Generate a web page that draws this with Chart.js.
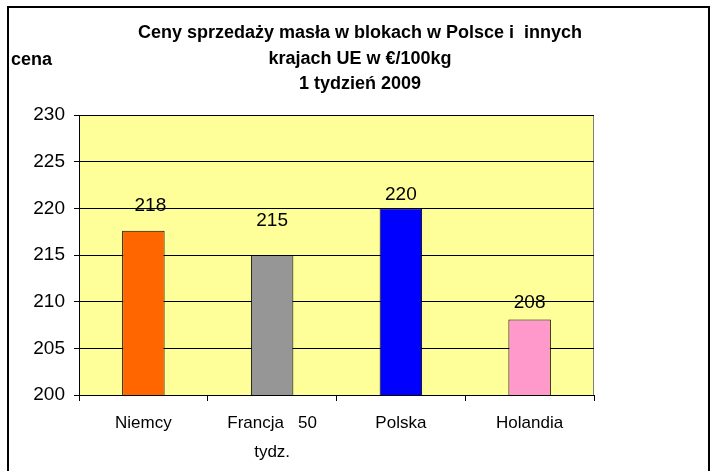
<!DOCTYPE html>
<html>
<head>
<meta charset="utf-8">
<script src="https://cdn.jsdelivr.net/npm/chart.js@4/dist/chart.umd.min.js"></script>
<style>
  html, body { margin: 0; padding: 0; background: #fff; }
  #wrap { position: relative; width: 712px; height: 471px; }
</style>
</head>
<body>
<div id="wrap"><canvas id="chart" width="712" height="471"></canvas></div>
<script>
// chart data
var countries = ['Niemcy', ['Francja   50', 'tydz.'], 'Polska', 'Holandia'];
var prices = [217.6, 215.0, 220.0, 208.1];
var barColors = ['#FF6600', '#969696', '#0000FF', '#FF99CC'];
var titleLines = ['Ceny sprzedaży masła w blokach w Polsce i  innych', 'krajach UE w €/100kg', '1 tydzień 2009'];
var yAxisLabel = 'cena';
var yMin = 200, yMax = 230, yStep = 5;

var FONT = "'Liberation Sans', Arial, sans-serif";

// frame, plot background, title and axis caption
var decorPlugin = {
    id: 'decor',
    beforeDraw: function (chart) {
        var ctx = chart.ctx;
        var a = chart.chartArea;
        ctx.save();
        ctx.fillStyle = '#FFFF99';
        ctx.fillRect(a.left, a.top, a.right - a.left, a.bottom - a.top);
        ctx.strokeStyle = '#808080';
        ctx.lineWidth = 1;
        ctx.beginPath();
        ctx.moveTo(a.left, a.top + 0.5);
        ctx.lineTo(a.right - 0.5, a.top + 0.5);
        ctx.lineTo(a.right - 0.5, a.bottom);
        ctx.stroke();
        ctx.restore();
    },
    afterDraw: function (chart) {
        var ctx = chart.ctx;
        ctx.save();
        // outer frame
        ctx.strokeStyle = '#000';
        ctx.lineWidth = 2;
        ctx.strokeRect(8, 7, 701, 480);
        // title
        ctx.fillStyle = '#000';
        ctx.font = 'bold 18px ' + FONT;
        ctx.textAlign = 'center';
        ctx.textBaseline = 'middle';
        var ys = [33, 59, 84];
        titleLines.forEach(function (line, i) {
            ctx.fillText(line, 360, ys[i]);
        });
        ctx.textAlign = 'left';
        ctx.fillText(yAxisLabel, 11, 60);
        ctx.restore();
    }
};

// value labels above bars (offsets follow the hand-placed labels)
var valueLabelPlugin = {
    id: 'valueLabels',
    afterDatasetsDraw: function (chart, args, opts) {
        var ctx = chart.ctx;
        var meta = chart.getDatasetMeta(0);
        ctx.save();
        ctx.fillStyle = '#000';
        ctx.font = '19px ' + FONT;
        ctx.textAlign = 'center';
        ctx.textBaseline = 'middle';
        meta.data.forEach(function (bar, i) {
            var off = opts.offsets[i] || [0, -20];
            ctx.fillText(Math.round(prices[i]), bar.x + off[0], bar.y + off[1]);
        });
        ctx.restore();
    }
};

new Chart(document.getElementById('chart').getContext('2d'), {
    type: 'bar',
    data: {
        labels: countries,
        datasets: [{
            data: prices,
            backgroundColor: barColors,
            borderColor: '#000',
            borderWidth: 1,
            borderSkipped: false,
            barPercentage: 0.33,
            categoryPercentage: 1
        }]
    },
    options: {
        responsive: false,
        animation: false,
        layout: { padding: { top: 115, right: 118, left: 0, bottom: 0 } },
        plugins: {
            legend: { display: false },
            title: { display: false },
            tooltip: { enabled: false },
            valueLabels: { offsets: [[7, -25], [0, -34], [0, -14], [0, -17]] }
        },
        scales: {
            x: {
                grid: { display: true, drawOnChartArea: false, drawTicks: true, offset: true, tickLength: 6, color: '#000' },
                border: { display: true, color: '#000' },
                ticks: { color: '#000', font: { family: FONT, size: 17, lineHeight: 1.75 }, padding: 7, maxRotation: 0, autoSkip: false },
                afterFit: function (scale) { scale.height = 76; }
            },
            y: {
                min: yMin,
                max: yMax,
                grid: { color: '#000', lineWidth: 1, tickLength: 5, drawTicks: true },
                border: { display: true, color: '#000' },
                ticks: { stepSize: yStep, color: '#000', font: { family: FONT, size: 19 }, padding: 9 },
                afterFit: function (scale) { scale.width = 79; }
            }
        }
    },
    plugins: [decorPlugin, valueLabelPlugin]
});
</script>
</body>
</html>
